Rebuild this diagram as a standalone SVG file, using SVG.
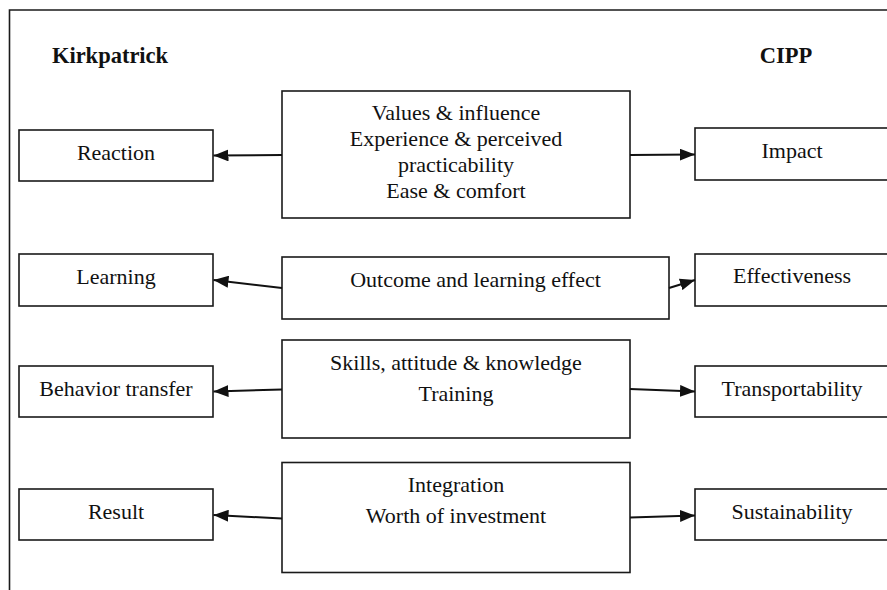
<svg xmlns="http://www.w3.org/2000/svg" width="887" height="590" viewBox="0 0 887 590">
  <style>
    .box { fill: #ffffff; stroke: #1a1a1a; stroke-width: 1.6; }
    .frame { fill: none; stroke: #1a1a1a; stroke-width: 1.6; }
    .lbl { font-family: "Liberation Serif", "Times New Roman", serif; font-size: 22px; fill: #111111; text-anchor: middle; }
    .head { font-family: "Liberation Serif", "Times New Roman", serif; font-size: 22.5px; font-weight: bold; fill: #111111; text-anchor: middle; }
    .conn { stroke: #111111; stroke-width: 2; fill: none; marker-end: url(#arrow); }
  </style>
  <defs>
    <marker id="arrow" markerUnits="userSpaceOnUse" markerWidth="16" markerHeight="12" refX="15" refY="6" orient="auto">
      <path d="M0,0 L15,6 L0,12 Z" fill="#111111"/>
    </marker>
  </defs>
  <rect x="0" y="0" width="887" height="590" fill="#ffffff"/>

  <!-- outer frame: top and left sides -->
  <path class="frame" d="M9.5,600 L9.5,10 L900,10"/>

  <!-- column headings -->
  <text class="head" x="110" y="63">Kirkpatrick</text>
  <text class="head" x="786" y="63">CIPP</text>

  <!-- Kirkpatrick levels -->
  <g id="reaction">
    <rect class="box" x="19" y="130" width="194" height="51"/>
    <text class="lbl" x="116" y="160">Reaction</text>
  </g>
  <g id="learning">
    <rect class="box" x="19" y="254" width="194" height="52"/>
    <text class="lbl" x="116" y="284">Learning</text>
  </g>
  <g id="behavior">
    <rect class="box" x="19" y="366" width="194" height="51"/>
    <text class="lbl" x="116" y="396">Behavior transfer</text>
  </g>
  <g id="result">
    <rect class="box" x="19" y="489" width="194" height="51"/>
    <text class="lbl" x="116" y="519">Result</text>
  </g>

  <!-- shared criteria -->
  <g id="criteria1">
    <rect class="box" x="282" y="91" width="348" height="127"/>
    <text class="lbl" x="456" y="120">Values &amp; influence</text>
    <text class="lbl" x="456" y="146">Experience &amp; perceived</text>
    <text class="lbl" x="456" y="172">practicability</text>
    <text class="lbl" x="456" y="198">Ease &amp; comfort</text>
  </g>
  <g id="criteria2">
    <rect class="box" x="282" y="257" width="387" height="62"/>
    <text class="lbl" x="475.5" y="287">Outcome and learning effect</text>
  </g>
  <g id="criteria3">
    <rect class="box" x="282" y="340" width="348" height="98"/>
    <text class="lbl" x="456" y="370">Skills, attitude &amp; knowledge</text>
    <text class="lbl" x="456" y="401">Training</text>
  </g>
  <g id="criteria4">
    <rect class="box" x="282" y="462.5" width="348" height="110"/>
    <text class="lbl" x="456" y="492">Integration</text>
    <text class="lbl" x="456" y="523">Worth of investment</text>
  </g>

  <!-- CIPP components -->
  <g id="impact">
    <rect class="box" x="695" y="128" width="260" height="52"/>
    <text class="lbl" x="792" y="158">Impact</text>
  </g>
  <g id="effectiveness">
    <rect class="box" x="695" y="254" width="260" height="52"/>
    <text class="lbl" x="792" y="283">Effectiveness</text>
  </g>
  <g id="transportability">
    <rect class="box" x="695" y="366" width="260" height="51"/>
    <text class="lbl" x="792" y="396">Transportability</text>
  </g>
  <g id="sustainability">
    <rect class="box" x="695" y="489" width="260" height="51"/>
    <text class="lbl" x="792" y="519">Sustainability</text>
  </g>

  <!-- connectors -->
  <g id="connectors">
    <line class="conn" x1="282" y1="155" x2="213.5" y2="155.5"/>
    <line class="conn" x1="630" y1="155" x2="695" y2="154.5"/>
    <line class="conn" x1="282" y1="288" x2="213.5" y2="280"/>
    <line class="conn" x1="669" y1="288" x2="695" y2="280"/>
    <line class="conn" x1="282" y1="389.5" x2="213.5" y2="391.5"/>
    <line class="conn" x1="630" y1="389" x2="695" y2="391.5"/>
    <line class="conn" x1="282" y1="518.5" x2="213.5" y2="515"/>
    <line class="conn" x1="630" y1="517.5" x2="695" y2="515.5"/>
  </g>
</svg>
